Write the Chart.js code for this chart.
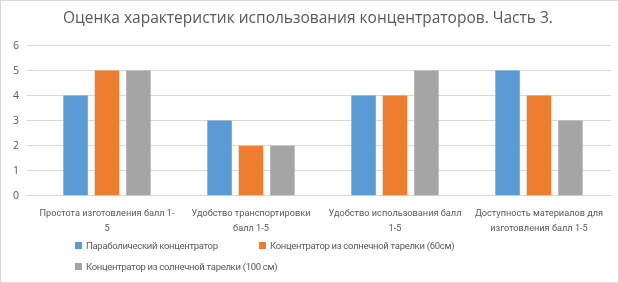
<!DOCTYPE html>
<html>
<head>
<meta charset="utf-8">
<script src="https://cdn.jsdelivr.net/npm/chart.js@4"></script>
<style>
  html, body { margin: 0; padding: 0; background: #fff; }
  .box { position: relative; width: 617px; height: 281px; border: 1px solid #d9d9d9; font-family: Roboto, sans-serif; }
  #wrap { position: absolute; left: 0; top: 0; width: 617px; height: 238px; }
  .legend { position: absolute; left: 74px; top: 234px; font-size: 9.5px; letter-spacing: -0.3px; color: #595959; }
  .legend .row { height: 21px; display: flex; align-items: center; }
  .legend .item { display: flex; align-items: center; flex: 0 0 auto; width: 184px; white-space: nowrap; }
  .legend .sw { flex: 0 0 auto; width: 7px; height: 7px; margin-right: 4px; }
</style>
</head>
<body>
<div class="box">
  <div id="wrap"><canvas id="canvas"></canvas></div>
  <div class="legend" id="legend"></div>
</div>
<script>
/* данные */
var kategorii = [
  ["Простота изготовления балл 1-", "5"],
  ["Удобство транспортировки", "балл 1-5"],
  ["Удобство использования балл", "1-5"],
  ["Доступность материалов для", "изготовления балл 1-5"]
];
var parabol = [4, 3, 4, 5];
var tarelka60 = [5, 2, 4, 4];
var tarelka100 = [5, 2, 5, 3];
var serii = ["Параболический концентратор", "Концентратор из солнечной тарелки (60см)", "Концентратор из солнечной тарелки  (100 см)"];
var culori = ["#5B9BD5", "#ED7D31", "#A5A5A5"];

const ctx = document.getElementById('canvas');
new Chart(ctx, {
  type: 'bar',
  data: {
    labels: kategorii,
    datasets: [
      { label: serii[0], data: parabol, backgroundColor: culori[0] },
      { label: serii[1], data: tarelka60, backgroundColor: culori[1] },
      { label: serii[2], data: tarelka100, backgroundColor: culori[2] }
    ]
  },
  options: {
    responsive: true,
    maintainAspectRatio: false,
    animation: false,
    layout: { padding: { left: 4, right: 7, top: 8, bottom: 0 } },
    datasets: { bar: { categoryPercentage: 0.655, barPercentage: 0.78 } },
    plugins: {
      legend: { display: false },
      tooltip: { enabled: false },
      title: {
        display: true,
        text: 'Оценка характеристик использования концентраторов. Часть 3.',
        color: '#595959',
        font: { family: 'Open Sans', size: 15.5, weight: 'normal' },
        padding: { top: 0, bottom: 18 }
      }
    },
    scales: {
      x: {
        grid: { display: false },
        border: { color: '#d9d9d9' },
        ticks: { color: '#595959', font: { family: 'Roboto', size: 9.2, lineHeight: 1.65 }, maxRotation: 0, autoSkip: false, padding: 2.5 }
      },
      y: {
        min: 0,
        max: 6,
        ticks: { stepSize: 1, color: '#595959', font: { family: 'Open Sans', size: 10.5 }, padding: 8 },
        grid: { color: '#d9d9d9' },
        border: { display: false }
      }
    }
  }
});

/* legenda */
var leg = document.getElementById('legend');
var randuri = [[0, 1], [2]];
randuri.forEach(function (r) {
  var row = document.createElement('div');
  row.className = 'row';
  r.forEach(function (i) {
    var it = document.createElement('div');
    it.className = 'item';
    it.innerHTML = '<span class="sw" style="background:' + culori[i] + '"></span><span>' + serii[i] + '</span>';
    row.appendChild(it);
  });
  leg.appendChild(row);
});
</script>
</body>
</html>
